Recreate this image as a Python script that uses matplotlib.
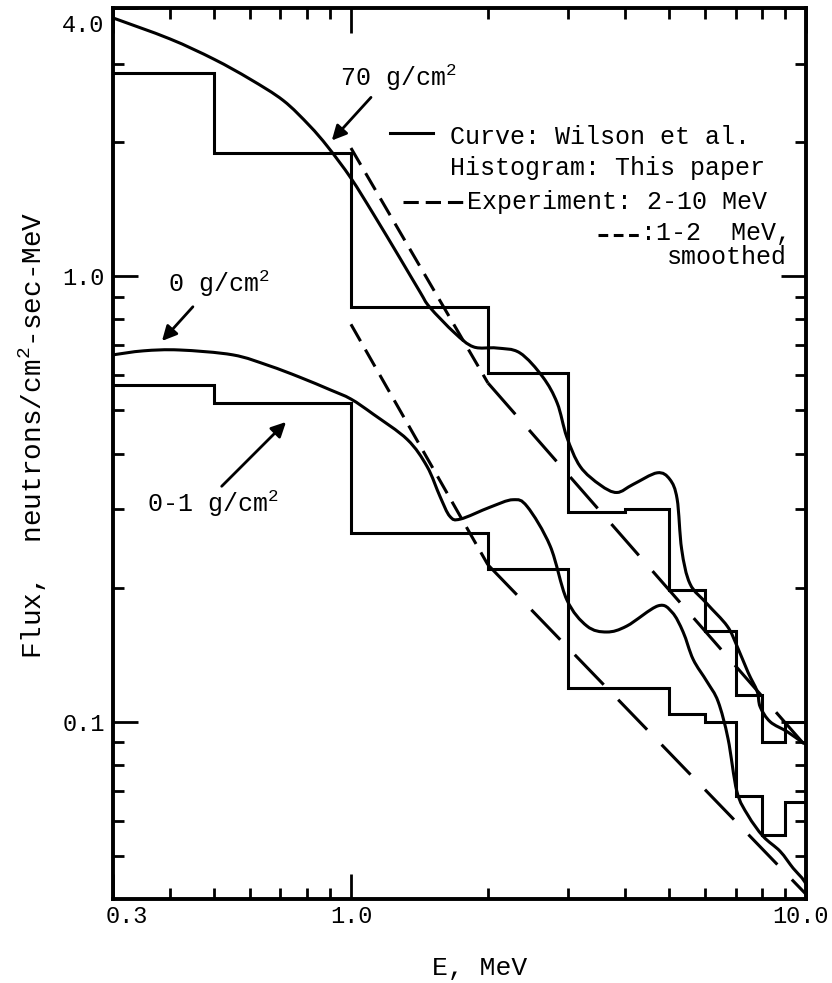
import numpy as np
import matplotlib
matplotlib.use("Agg")
import matplotlib.pyplot as plt
from matplotlib.ticker import FixedLocator, FixedFormatter, NullFormatter
from matplotlib.transforms import ScaledTranslation
from matplotlib.path import Path
from matplotlib.patches import PathPatch

# typewriter look of the original
plt.rcParams["font.family"] = ["Liberation Mono", "DejaVu Sans Mono"]
plt.rcParams["mathtext.fontset"] = "custom"
plt.rcParams["mathtext.rm"] = "Liberation Mono"
plt.rcParams["mathtext.it"] = "Liberation Mono"
plt.rcParams["lines.scale_dashes"] = False

# ----- data (E in MeV, flux per cm2-sec-MeV) -----
# Wilson et al. curve, 70 g/cm2
curve70_E = [0.30, 0.40, 0.50, 0.60, 0.71, 0.81, 0.89, 1.00, 1.12, 1.28, 1.42, 1.49,
             1.69, 1.86, 2.09, 2.35, 2.64, 2.84, 2.98, 3.19, 3.53, 3.84, 4.17, 4.71,
             5.02, 5.21, 5.33, 5.56, 6.06, 6.71, 7.05, 7.46, 7.81, 7.93, 8.34, 9.09,
             9.80, 10.0]
curve70_F = [3.80, 3.41, 3.07, 2.77, 2.48, 2.18, 1.95, 1.66, 1.38, 1.10, 0.92, 0.852,
             0.746, 0.694, 0.690, 0.673, 0.594, 0.519, 0.436, 0.374, 0.340, 0.327, 0.341, 0.362,
             0.350, 0.316, 0.244, 0.204, 0.184, 0.164, 0.148, 0.129, 0.117, 0.108, 0.100, 0.095,
             0.090, 0.089]

# Wilson et al. curve, 0 g/cm2
curve0_E = [0.30, 0.35, 0.42, 0.55, 0.66, 0.77, 0.90, 1.00, 1.12, 1.33, 1.47, 1.57,
            1.65, 1.74, 2.02, 2.27, 2.44, 2.74, 2.98, 3.30, 3.65, 4.04, 4.73, 5.08,
            5.37, 5.65, 6.06, 6.41, 6.74, 7.05, 7.46, 8.05, 8.77, 9.37, 9.80, 10.0]
curve0_F = [0.666, 0.680, 0.683, 0.666, 0.630, 0.594, 0.556, 0.530, 0.490, 0.430, 0.374, 0.320,
            0.289, 0.285, 0.303, 0.315, 0.304, 0.248, 0.188, 0.164, 0.159, 0.164, 0.182, 0.176,
            0.159, 0.138, 0.123, 0.111, 0.0916, 0.0697, 0.0616, 0.0553, 0.0512, 0.0469, 0.0446, 0.0432]

# histograms (this paper)
hist70_edges = [0.3, 0.5, 1.0, 2.0, 3.0, 4.0, 5.0, 6.0, 7.0, 8.0, 9.0, 10.0]
hist70_vals = [2.86, 1.89, 0.855, 0.607, 0.295, 0.300, 0.198, 0.160, 0.115, 0.090, 0.100]

hist01_edges = [0.3, 0.5, 1.0, 2.0, 3.0, 5.0, 6.0, 7.0, 8.0, 9.0, 10.0]
hist01_vals = [0.570, 0.520, 0.265, 0.220, 0.119, 0.104, 0.100, 0.068, 0.0556, 0.0662]

# experiment: 1-2 MeV smoothed (short dash) and 2-10 MeV (long dash)
exp_short_E = [1.0, 2.0]
exp70_short_F = [1.94, 0.576]
exp0_short_F = [0.78, 0.225]
exp_long_E = [2.0, 10.0]
exp70_long_F = [0.576, 0.088]
exp0_long_F = [0.225, 0.041]

x_major = [0.3, 1.0, 10.0]
x_major_labels = ["0.3", "1.0", "10.0"]
x_minor = [0.4, 0.5, 0.6, 0.7, 0.8, 0.9, 2, 3, 4, 5, 6, 7, 8, 9]
y_major = [0.1, 1.0, 4.0]
y_major_labels = ["0.1", "1.0", "4.0"]
y_minor = [0.05, 0.06, 0.07, 0.08, 0.09, 0.2, 0.3, 0.4, 0.5, 0.6, 0.7, 0.8, 0.9, 2, 3]

FS = 18
LW = 2.2
SHORT = (14, 7)
LONG = (30, 15)


def smooth_curve(E, F):
    # Catmull-Rom through the read points, done in log space so it bends like the drawing
    p = np.column_stack([np.log10(E), np.log10(F)])
    verts = [p[0]]
    codes = [Path.MOVETO]
    n = len(p)
    for i in range(n - 1):
        p0 = p[max(i - 1, 0)]
        p1, p2 = p[i], p[i + 1]
        p3 = p[min(i + 2, n - 1)]
        verts += [p1 + (p2 - p0) / 6.0, p2 - (p3 - p1) / 6.0, p2]
        codes += [Path.CURVE4] * 3
    return Path(10 ** np.array(verts), codes)


fig = plt.figure(figsize=(8.32, 9.83), dpi=100)
ax = fig.add_axes([113 / 832, 1 - 899 / 983, 693 / 832, 891 / 983])
ax.set_xscale("log")
ax.set_yscale("log")

for E, F in ((curve70_E, curve70_F), (curve0_E, curve0_F)):
    ax.add_patch(PathPatch(smooth_curve(E, F), fill=False, lw=LW, ec="black"))
ax.stairs(hist70_vals, hist70_edges, baseline=None, color="black", lw=LW)
ax.stairs(hist01_vals, hist01_edges, baseline=None, color="black", lw=LW)

for f in (exp70_short_F, exp0_short_F):
    ax.plot(exp_short_E, f, color="black", lw=LW, dashes=SHORT)
for f in (exp70_long_F, exp0_long_F):
    ax.plot(exp_long_E, f, color="black", lw=LW, dashes=LONG)

ax.set_xlim(0.3, 10.0)
ax.set_ylim(0.04, 4.0)

ax.xaxis.set_major_locator(FixedLocator(x_major))
ax.xaxis.set_major_formatter(FixedFormatter(x_major_labels))
ax.xaxis.set_minor_locator(FixedLocator(x_minor))
ax.xaxis.set_minor_formatter(NullFormatter())
ax.yaxis.set_major_locator(FixedLocator(y_major))
ax.yaxis.set_major_formatter(FixedFormatter(y_major_labels))
ax.yaxis.set_minor_locator(FixedLocator(y_minor))
ax.yaxis.set_minor_formatter(NullFormatter())

ax.tick_params(which="both", direction="in", top=True, right=True, width=2)
ax.tick_params(which="major", length=18, labelsize=17)
ax.tick_params(which="minor", length=8)
ax.tick_params(axis="x", which="major", pad=4)
ax.tick_params(axis="y", which="major", pad=6)
for s in ax.spines.values():
    s.set_linewidth(2.8)

# nudge corner labels like the original
fig.canvas.draw()
for lab in ax.get_xticklabels():
    if lab.get_text() == "0.3":
        lab.set_transform(lab.get_transform() + ScaledTranslation(0.14, 0, fig.dpi_scale_trans))
    if lab.get_text() == "10.0":
        lab.set_transform(lab.get_transform() + ScaledTranslation(-0.06, 0, fig.dpi_scale_trans))
for lab in ax.get_yticklabels():
    if lab.get_text() == "4.0":
        lab.set_transform(lab.get_transform() + ScaledTranslation(0, -0.15, fig.dpi_scale_trans))

ax.set_xlabel("E, MeV", fontsize=19)
ax.xaxis.set_label_coords(0.529, -0.064)
ax.set_ylabel("Flux,  neutrons/cm$^{2}$-sec-MeV", fontsize=20)
ax.yaxis.set_label_coords(-0.093, 0.52)

# annotations
ax.text(0.328, 0.922, "70 g/cm$^{2}$", transform=ax.transAxes, fontsize=FS, va="center")
ax.annotate("", xy=(0.313, 0.849), xytext=(0.375, 0.902), xycoords="axes fraction",
            arrowprops=dict(arrowstyle="-|>", lw=2, mutation_scale=22, color="black"))
ax.text(0.079, 0.691, "0 g/cm$^{2}$", transform=ax.transAxes, fontsize=FS, va="center")
ax.annotate("", xy=(0.068, 0.624), xytext=(0.118, 0.667), xycoords="axes fraction",
            arrowprops=dict(arrowstyle="-|>", lw=2, mutation_scale=22, color="black"))
ax.text(0.049, 0.444, "0-1 g/cm$^{2}$", transform=ax.transAxes, fontsize=FS, va="center")
ax.annotate("", xy=(0.2525, 0.5376), xytext=(0.154, 0.461), xycoords="axes fraction",
            arrowprops=dict(arrowstyle="-|>", lw=2, mutation_scale=22, color="black"))

# hand-made key
ax.plot([0.400, 0.462], [0.860, 0.860], transform=ax.transAxes, color="black", lw=LW)
ax.text(0.486, 0.855, "Curve: Wilson et al.", transform=ax.transAxes, fontsize=FS, va="center")
ax.text(0.486, 0.820, "Histogram: This paper", transform=ax.transAxes, fontsize=FS, va="center")
ax.plot([0.4185, 0.511], [0.782, 0.782], transform=ax.transAxes, color="black", lw=LW, dashes=(11, 5))
ax.text(0.511, 0.782, "Experiment: 2-10 MeV", transform=ax.transAxes, fontsize=FS, va="center")
ax.plot([0.700, 0.760], [0.745, 0.745], transform=ax.transAxes, color="black", lw=LW, dashes=(7, 4))
ax.text(0.762, 0.7475, ":1-2  MeV,", transform=ax.transAxes, fontsize=FS, va="center")
ax.text(0.9726, 0.7205, "smoothed", transform=ax.transAxes, fontsize=FS, va="center", ha="right")

fig.savefig("out.png", dpi=100)
